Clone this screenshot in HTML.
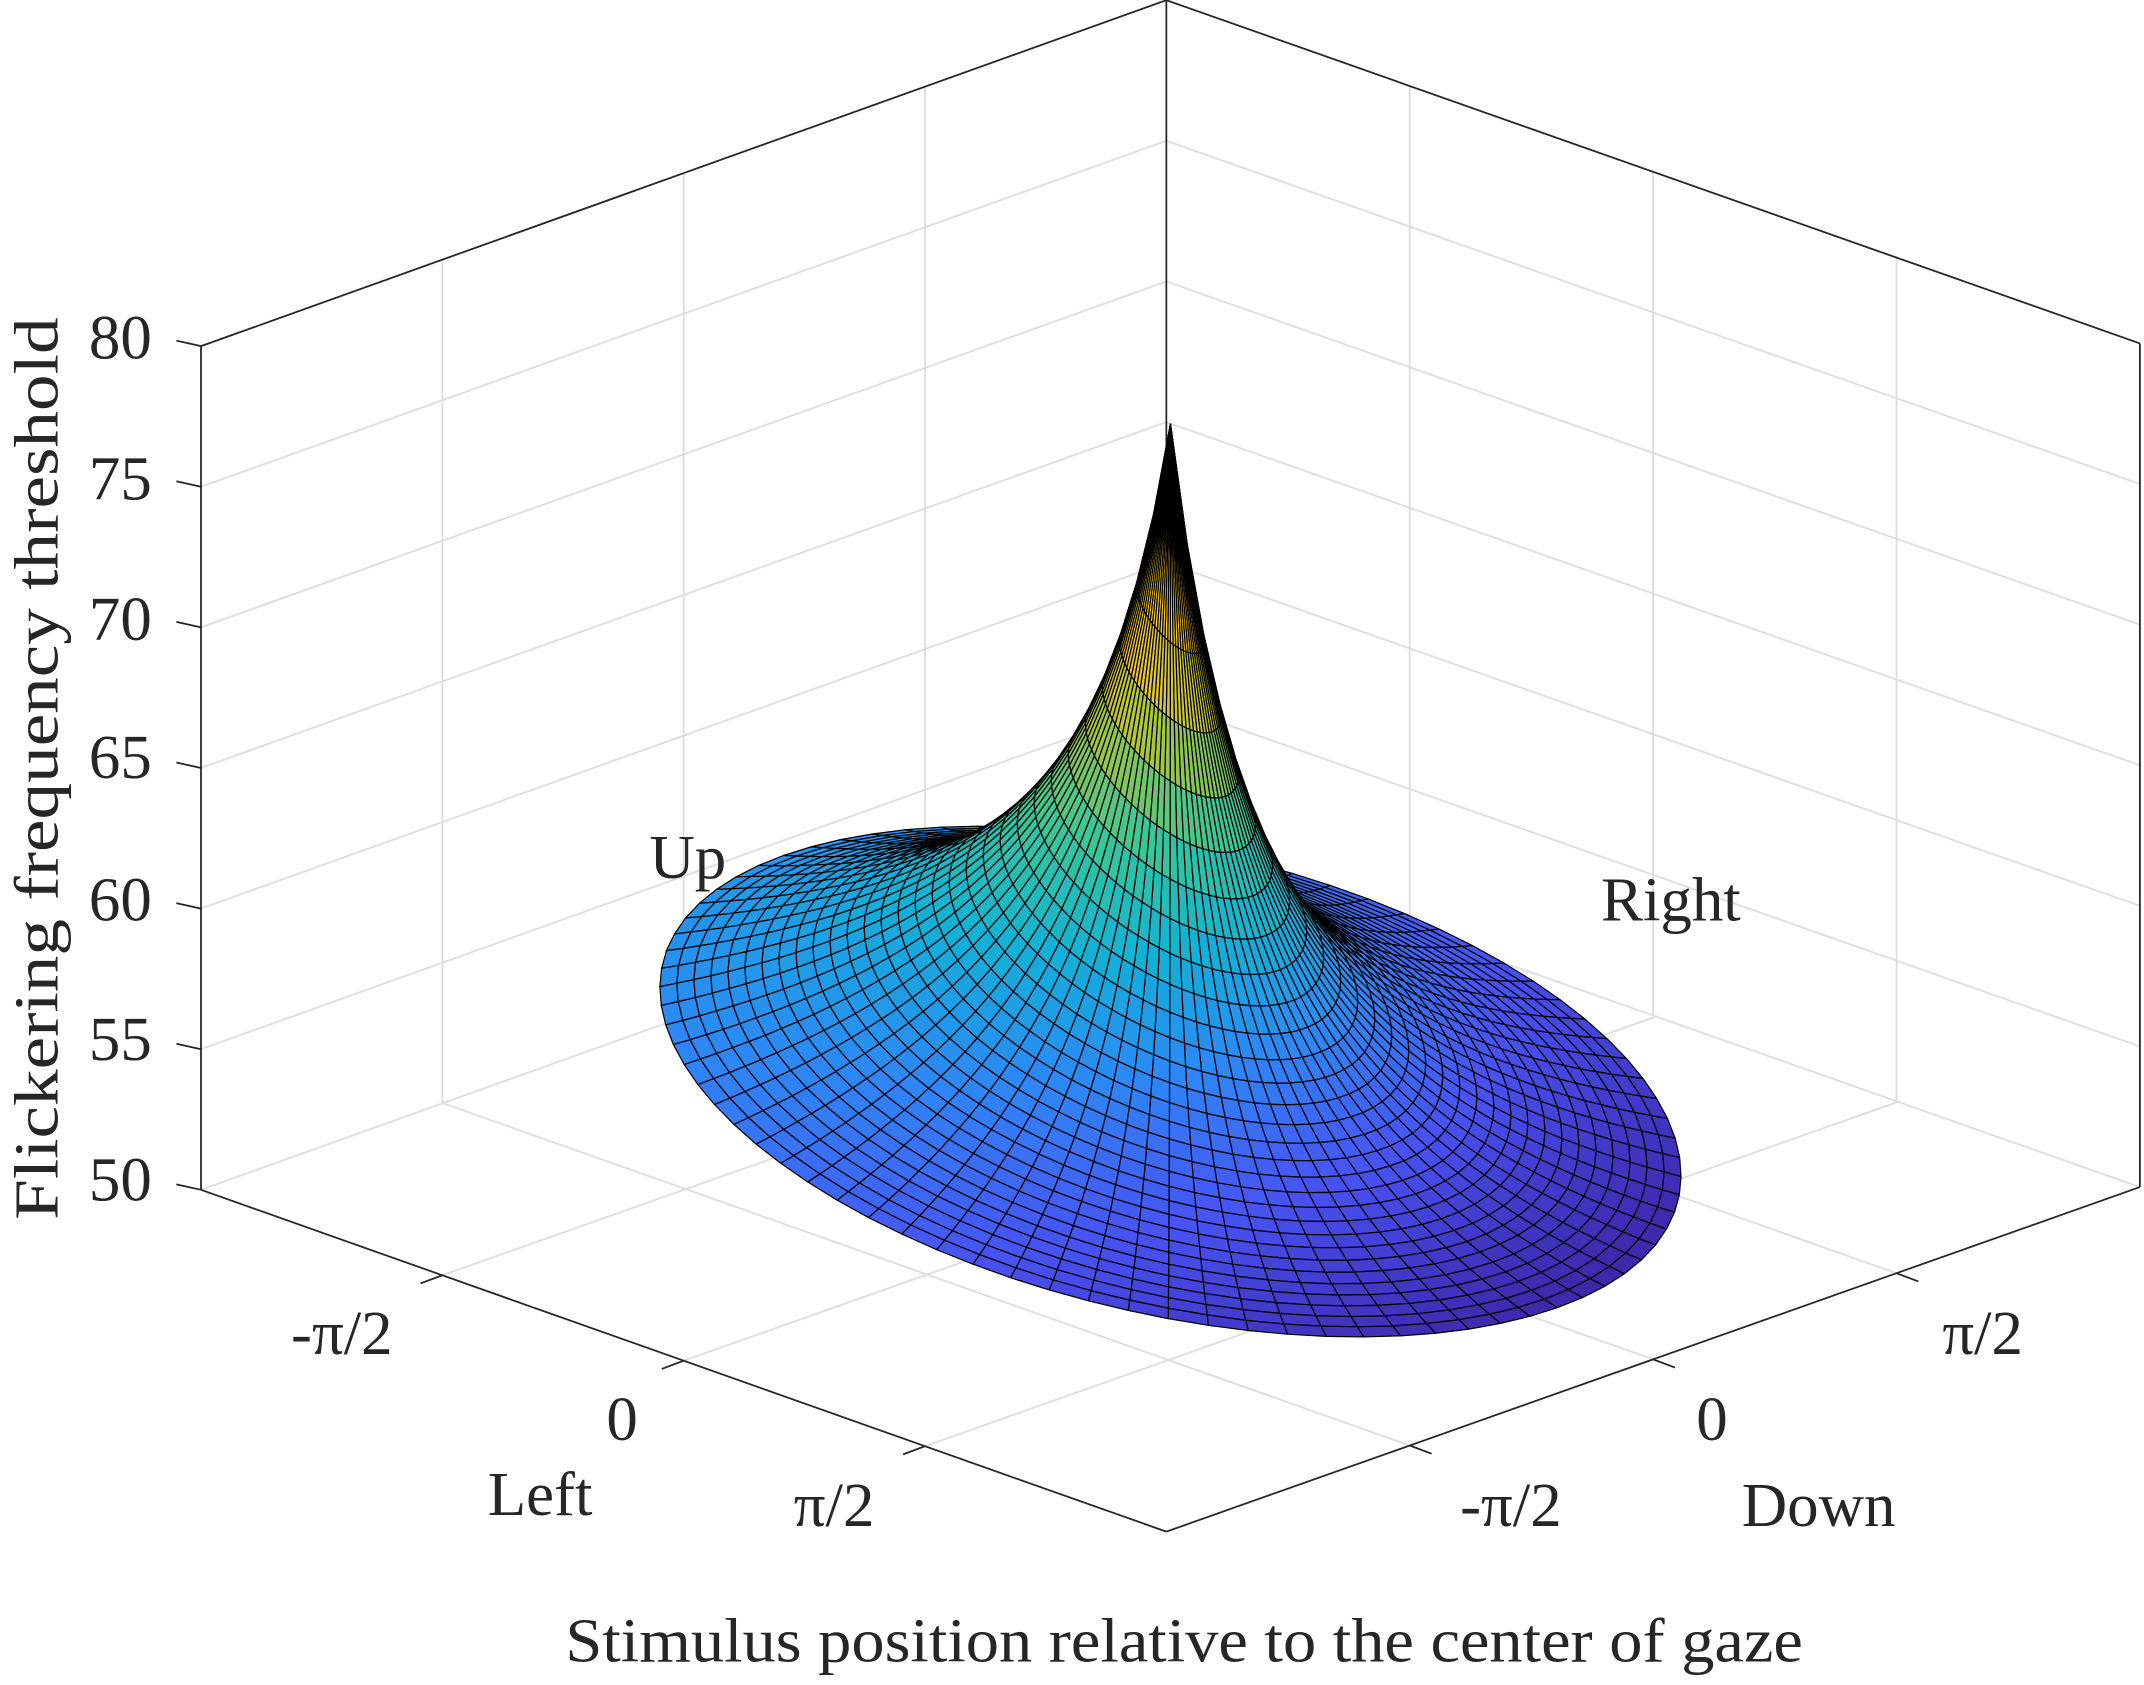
<!DOCTYPE html>
<html><head><meta charset="utf-8"><style>
html,body{margin:0;padding:0;background:#fff;}
svg{display:block;}
text{font-family:"Liberation Serif",serif;fill:#262626;}
</style></head><body>
<svg id="s" width="2144" height="1685" viewBox="0 0 1568 1232" xmlns="http://www.w3.org/2000/svg">
<g id="grid" stroke="#dcdcdc" stroke-width="1.3" fill="none"></g>
<g id="box" stroke="#262626" stroke-width="1.3" fill="none"></g>
<g id="surf" stroke="#000" stroke-width="0.9" stroke-linejoin="round"></g>
<g id="labels" font-size="46">
<text x="111" y="262" text-anchor="end">80</text>
<text x="111" y="365" text-anchor="end">75</text>
<text x="111" y="468" text-anchor="end">70</text>
<text x="111" y="569" text-anchor="end">65</text>
<text x="111" y="673" text-anchor="end">60</text>
<text x="111" y="775" text-anchor="end">55</text>
<text x="111" y="878" text-anchor="end">50</text>
<text x="250" y="990" text-anchor="middle">-π/2</text>
<text x="455" y="1053" text-anchor="middle">0</text>
<text x="610" y="1116" text-anchor="middle">π/2</text>
<text x="395" y="1108" text-anchor="middle">Left</text>
<text x="1450" y="990" text-anchor="middle">π/2</text>
<text x="1252" y="1053" text-anchor="middle">0</text>
<text x="1105" y="1116" text-anchor="middle">-π/2</text>
<text x="1330" y="1116" text-anchor="middle">Down</text>
<text x="503" y="642" text-anchor="middle">Up</text>
<text x="1222" y="673" text-anchor="middle">Right</text>
<text x="866" y="1215" text-anchor="middle" textLength="905" lengthAdjust="spacingAndGlyphs">Stimulus position relative to the center of gaze</text>
<text transform="translate(42,562) rotate(-90)" text-anchor="middle" textLength="660" lengthAdjust="spacingAndGlyphs">Flickering frequency threshold</text>
</g>
</svg>
<script>
(function(){
var NS="http://www.w3.org/2000/svg";
function el(p,t,a){var e=document.createElementNS(NS,t);for(var k in a)e.setAttribute(k,a[k]);p.appendChild(e);return e;}
function line(p,x1,y1,x2,y2){el(p,'line',{x1:x1,y1:y1,x2:x2,y2:y2});}
var G=document.getElementById('grid'),B=document.getElementById('box'),S=document.getElementById('surf');
var PI=Math.PI;
function zy(z){return 870-(z-50)*20.567;}
for(var z=50;z<=80;z+=5){var y=zy(z);line(G,147,y,853,y-253);line(G,853,y-253,1565,y-2);}
[323.5,500,676.5].forEach(function(x){var t=(x-147)/706;line(G,x,870-253*t,x,zy(80)-253*t);});
[1031,1209,1387].forEach(function(x){var t=(x-853)/712;line(G,x,617+251*t,x,zy(80)-253+251*t);});
[[323.5,932.5],[500,995],[676.5,1057.5]].forEach(function(p){line(G,p[0],p[1],p[0]+712,p[1]-252);});
[[1031,1057],[1209,994],[1387,931]].forEach(function(p){line(G,p[0],p[1],p[0]-706,p[1]-250);});
var top=zy(80);
line(B,147,870,147,top);line(B,1565,868,1565,top-2);line(B,853,0,853,617);
line(B,147,870,853,1120);line(B,853,1120,1565,868);
line(B,147,top,853,top-253);line(B,853,top-253,1565,top-2);
for(var z=50;z<=80;z+=5){var y=zy(z);line(B,147,y,129,y-4);}
[[323.5,932.5],[500,995],[676.5,1057.5]].forEach(function(p){line(B,p[0],p[1],p[0]-16,p[1]+6);});
[[1031,1057],[1209,994],[1387,931]].forEach(function(p){line(B,p[0],p[1],p[0]+16,p[1]+6);});
function proj(X,Y,Z){return [853+112.36*(X-PI)+113.32*(Y+PI),1120+39.79*(X-PI)-40.11*(Y+PI)-20.567*(Z-50)];}
var R=2.34,NT=80,NR=30,zpk=77.18,c=2;
function h(r){return 1/(1+c*r);}
var hR=h(R);
function Ze(t){return 53.8-3.82*Math.cos(t)-0.99*Math.sin(t);}
function Zf(r,t){var g=(h(r)-hR)/(1-hR);var b=Ze(t);return b+(zpk-b)*g;}
var P=[];
for(var i=0;i<=NR;i++){P[i]=[];var r=R*i/NR;for(var j=0;j<=NT;j++){var t=2*PI*j/NT;var X=r*Math.cos(t),Y=r*Math.sin(t),Z=Zf(r,t);P[i][j]={X:X,Y:Y,Z:Z,s:proj(X,Y,Z)};}}
var zmin=1e9;for(var j=0;j<=NT;j++)zmin=Math.min(zmin,P[NR][j].Z);
var cm=[[0.2422,0.1504,0.6603],[0.2810,0.3228,0.9579],[0.1786,0.5289,0.9682],[0.0689,0.6948,0.8394],[0.2161,0.7843,0.5923],[0.6720,0.7793,0.2227],[0.9970,0.7659,0.2199],[0.9657,0.8674,0.1777],[0.9769,0.9839,0.0805]];
function col(v){v=Math.max(0,Math.min(1,v))*8;var k=Math.min(7,Math.floor(v)),f=v-k,a=cm[k],b=cm[k+1];
return 'rgb('+[0,1,2].map(function(q){return Math.round(255*(a[q]+(b[q]-a[q])*f));}).join(',')+')';}
var faces=[];
for(var i=0;i<NR;i++)for(var j=0;j<NT;j++){
var q=[P[i][j],P[i+1][j],P[i+1][j+1],P[i][j+1]];
var X=0,Y=0,Z=0;q.forEach(function(p){X+=p.X/4;Y+=p.Y/4;Z+=p.Z/4;});
var d=0.661*(X-Y)+0.0489*(Z-50);
faces.push({q:q,d:d,z:Z});}
faces.sort(function(a,b){return a.d-b.d;});
faces.forEach(function(f){
var pts=f.q.map(function(p){return p.s[0].toFixed(1)+','+p.s[1].toFixed(1);}).join(' ');
el(S,'polygon',{points:pts,fill:col((f.z-zmin)/(zpk-zmin))});});
})();
</script>
</body></html>
